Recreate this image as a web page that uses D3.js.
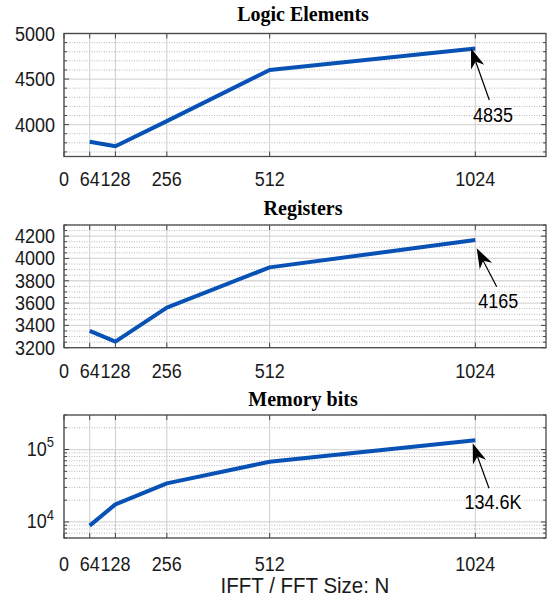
<!DOCTYPE html>
<html><head><meta charset="utf-8">
<script src="https://cdn.jsdelivr.net/npm/d3@7"></script>
<style>body{margin:0;background:#fff}svg{display:block}</style>
</head><body>
<svg id="c" width="547" height="604"></svg>
<script>
// ---- data ----
const fftSizes = [64, 128, 256, 512, 1024];
const xTicks = [0, 64, 128, 256, 512, 1024];
const logicElements = [3811, 3763, 4038, 4600, 4835];
const registers = [3350, 3255, 3560, 3920, 4165];
const memoryBits = [8900, 17500, 34100, 67800, 134600];
const titles = ["Logic Elements", "Registers", "Memory bits"];
const annotations = ["4835", "4165", "134.6K"];
const leTicks = [4000, 4500, 5000];
const regTicks = [3200, 3400, 3600, 3800, 4000, 4200];
const memTicks = [1e4, 1e5];
const xLabel = "IFFT / FFT Size: N";

// ---- layout ----
const svg = d3.select("#c");
const X0 = 64, X1 = 546;
const x = d3.scaleLinear().domain([0, 1200]).range([X0, X1]);
const blue = "#0852b6";
const sans = "'Liberation Sans', Arial, sans-serif";
const serif = "'Liberation Serif', 'Times New Roman', serif";
const VS = 1.1; // vertical stretch of sans text

function sText(g, tx, ty, size, anchor, fill) {
  return g.append("text")
    .attr("transform", `translate(${tx},${ty}) scale(1,${VS})`)
    .attr("text-anchor", anchor).attr("font-family", sans)
    .attr("font-size", size).attr("fill", fill);
}

const panels = [
  {title: titles[0], values: logicElements, ticks: leTicks, ann: annotations[0],
   top: 33.5, bottom: 156.5, titleY: 20.7, xlabY: 185.5, log: false,
   domain: [3650, 5000], minorStep: 100,
   tip: [-4.3, -0.2], tail: [14, 51.5], text: [17.7, 66.5]},
  {title: titles[1], values: registers, ticks: regTicks, ann: annotations[1],
   top: 225, bottom: 347.7, titleY: 215, xlabY: 378, log: false,
   domain: [3200, 4300], minorStep: 50,
   tip: [1.4, 8.2], tail: [21.4, 46.6], text: [23, 60.9]},
  {title: titles[2], values: memoryBits, ticks: memTicks, ann: annotations[2],
   top: 415, bottom: 538, titleY: 405.7, xlabY: 570.5, log: true,
   domain: [6000, 3e5], minorStep: null,
   tip: [-2.6, 3.1], tail: [13.7, 48.1], text: [17.7, 61.5]}
];

panels.forEach(p => {
  const g = svg.append("g");
  const y = (p.log ? d3.scaleLog() : d3.scaleLinear()).domain(p.domain).range([p.bottom, p.top]);

  let minor = [];
  if (p.log) {
    for (let e = 3; e <= 5; e++) for (let m = 2; m <= 9; m++) {
      const v = m * Math.pow(10, e);
      if (v >= p.domain[0] && v <= p.domain[1]) minor.push(v);
    }
  } else {
    for (let v = Math.ceil(p.domain[0] / p.minorStep) * p.minorStep; v <= p.domain[1]; v += p.minorStep) {
      if (!p.ticks.includes(v)) minor.push(v);
    }
  }

  g.selectAll(".mg").data(minor).join("line")
    .attr("x1", X0).attr("x2", X1)
    .attr("y1", d => y(d)).attr("y2", d => y(d))
    .attr("stroke", "#b8b8b8").attr("stroke-width", 1)
    .attr("stroke-dasharray", "1,1.5");
  g.selectAll(".hg").data(p.ticks).join("line")
    .attr("x1", X0).attr("x2", X1)
    .attr("y1", d => y(d)).attr("y2", d => y(d))
    .attr("stroke", "#d8d8d8").attr("stroke-width", 1.3);
  g.selectAll(".vg").data(xTicks).join("line")
    .attr("x1", d => x(d)).attr("x2", d => x(d))
    .attr("y1", p.top).attr("y2", p.bottom)
    .attr("stroke", "#cdcdcd").attr("stroke-width", 1);

  const tc = "#444";
  const addTicksY = (vals, len) => {
    g.selectAll(null).data(vals).join("line")
      .attr("x1", X0).attr("x2", X0 + len).attr("y1", d => y(d)).attr("y2", d => y(d))
      .attr("stroke", tc);
    g.selectAll(null).data(vals).join("line")
      .attr("x1", X1).attr("x2", X1 - len).attr("y1", d => y(d)).attr("y2", d => y(d))
      .attr("stroke", tc);
  };
  addTicksY(p.ticks, 5);
  addTicksY(minor, 3);
  g.selectAll(null).data(xTicks).join("line")
    .attr("x1", d => x(d)).attr("x2", d => x(d)).attr("y1", p.bottom).attr("y2", p.bottom - 5)
    .attr("stroke", tc);
  g.selectAll(null).data(xTicks).join("line")
    .attr("x1", d => x(d)).attr("x2", d => x(d)).attr("y1", p.top).attr("y2", p.top + 5)
    .attr("stroke", tc);

  g.append("rect").attr("x", X0).attr("y", p.top).attr("width", X1 - X0).attr("height", p.bottom - p.top)
    .attr("fill", "none").attr("stroke", "#4a4a4a").attr("stroke-width", 1.3);

  const pts = fftSizes.map((n, i) => [n, p.values[i]]);
  g.append("path").datum(pts)
    .attr("d", d3.line().x(d => x(d[0])).y(d => y(d[1])))
    .attr("fill", "none").attr("stroke", blue).attr("stroke-width", 4)
    .attr("stroke-linejoin", "round");

  if (p.log) {
    p.ticks.forEach(t => {
      const tx = sText(g, 54, y(t) + 6.5, 18, "end", "#1a1a1a");
      tx.append("tspan").text("10");
      tx.append("tspan").attr("dy", -8).attr("font-size", 13).text(String(Math.round(Math.log10(t))));
    });
  } else {
    p.ticks.forEach(t => sText(g, 55, y(t) + 7, 18, "end", "#1a1a1a").text(t));
  }
  xTicks.forEach(t => sText(g, x(t), p.xlabY, 18, "middle", "#1a1a1a").text(t));

  g.append("text").attr("x", 303).attr("y", p.titleY).attr("text-anchor", "middle")
    .attr("font-family", serif).attr("font-weight", "bold").attr("font-size", 20).attr("fill", "#000")
    .text(p.title);

  const last = fftSizes.length - 1;
  const px = x(fftSizes[last]), py = y(p.values[last]);
  const tip = [px + p.tip[0], py + p.tip[1]];
  const tail = [px + p.tail[0], py + p.tail[1]];
  const dx = tail[0] - tip[0], dy = tail[1] - tip[1];
  const L = Math.hypot(dx, dy), ux = dx / L, uy = dy / L, nx = -uy, ny = ux;
  const hl = 20, hw = 7, notch = 14;
  g.append("line").attr("x1", tip[0] + ux * notch).attr("y1", tip[1] + uy * notch)
    .attr("x2", tail[0]).attr("y2", tail[1]).attr("stroke", "#000").attr("stroke-width", 1.2);
  const head = [
    tip,
    [tip[0] + ux * hl + nx * hw, tip[1] + uy * hl + ny * hw],
    [tip[0] + ux * notch, tip[1] + uy * notch],
    [tip[0] + ux * hl - nx * hw, tip[1] + uy * hl - ny * hw]
  ];
  g.append("path").attr("d", "M" + head.map(q => q.join(",")).join("L") + "Z").attr("fill", "#000");
  sText(g, px + p.text[0], py + p.text[1] + 7, 18, "middle", "#000").text(p.ann);
});

sText(svg, 305, 593.3, 20.5, "middle", "#1a1a1a").text(xLabel);
</script>
</body></html>
